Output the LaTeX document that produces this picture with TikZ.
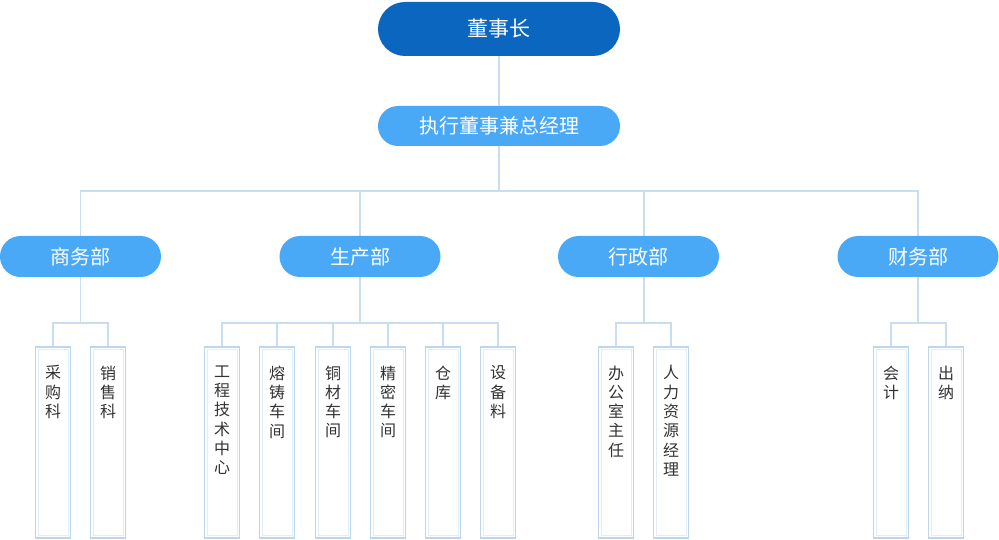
\documentclass[tikz,border=0pt]{standalone}
\usepackage{fontspec}
\setmainfont{Noto Sans CJK SC}
\definecolor{topblue}{HTML}{0A66BE}
\definecolor{midblue}{HTML}{4AA9F6}
\definecolor{linkblue}{HTML}{C9DDF1}
\definecolor{rimblue}{HTML}{BCD6EF}
\definecolor{innerblue}{HTML}{E2EDF8}
\definecolor{textgray}{HTML}{333333}

\begin{document}
\begin{tikzpicture}[x=1pt,y=-1pt,
    pill/.style = {rounded corners=#1, inner sep=0pt, text=white,
                font=\fontsize{20}{20}\selectfont},
    link/.style = {draw=linkblue, line width=1.5pt},
    secbox/.style = {draw=rimblue, line width=1.2pt, minimum width=35pt,
                minimum height=191pt, inner sep=0pt,
                path picture={\draw[innerblue, line width=1pt]
                    ([shift={(2.5pt,2.5pt)}]path picture bounding box.south west) rectangle
                    ([shift={(-2.5pt,-2.5pt)}]path picture bounding box.north east);}},
    sectext/.style = {anchor=north, align=center, text=textgray, inner sep=0pt,
                font=\fontsize{16}{19.3}\selectfont}
                    ]
        \useasboundingbox (0,0) rectangle (999,540);
        % top of the chart
        \node[pill=27pt, fill=topblue, minimum width=242pt, minimum height=54pt,
              font=\fontsize{21}{21}\selectfont] (chair) at (499,29) {董事长};
        \node[pill=20pt, fill=midblue, minimum width=242pt, minimum height=40pt] (ceo) at (499,126) {执行董事兼总经理};
        \draw[link] (chair) -- (ceo);
        % departments
        \def\dy{256.5}
        \coordinate (bar) at (499,191);
        \foreach \x/\lx/\d/\t in {80.5/80.5/sales/商务部, 360/360/prod/生产部, 638.5/644/admin/行政部, 918/918/fin/财务部}
        {
            \coordinate (\d top) at (\lx,191);
            \coordinate (\d bot) at (\lx,323);
            \draw[link] (ceo) -- (bar) -- (\d top) -- (\d bot);
            \node[pill=20.5pt, fill=midblue, minimum width=161pt, minimum height=41pt] (\d) at (\x,\dy) {\t};
        }
        % sections
        \def\by{442.5}
        \foreach \x/\d/\s/\t in {53/sales/buy/采\\购\\科, 108/sales/sell/销\\售\\科,
                222/prod/eng/工\\程\\技\\术\\中\\心, 277/prod/cast/熔\\铸\\车\\间,
                333/prod/copper/铜\\材\\车\\间, 388/prod/fine/精\\密\\车\\间,
                443/prod/store/仓\\库, 498/prod/equip/设\\备\\料,
                616/admin/office/办\\公\\室\\主\\任, 671/admin/hr/人\\力\\资\\源\\经\\理,
                891/fin/acct/会\\计, 946/fin/cash/出\\纳}
        {
            \node[secbox] (\s) at (\x,\by) {};
            \node[sectext] (\s txt) at ([yshift=-19pt]\s.north) {\t};
            \draw[link] (\d bot) -- (\s.north |- \d bot) -- (\s.north);
        }
\end{tikzpicture}
\end{document}
